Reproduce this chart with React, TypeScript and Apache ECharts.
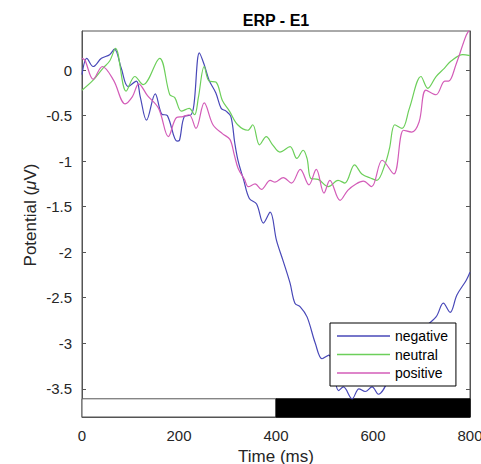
import React, { useEffect, useRef } from "react";
import * as echarts from "echarts";

const SERIES_NAMES = ["negative", "neutral", "positive"];
const X_TICKS = [0, 200, 400, 600, 800];
const Y_TICKS = [-3.5, -3, -2.5, -2, -1.5, -1, -0.5, 0];

const NEGATIVE: [number, number][] = [
  [0, -0.05], [10, 0.13], [23, 0.04], [40, 0.13], [57, 0.17], [67, 0.23], [81, 0.02],
  [95, -0.18], [112, -0.12], [120, -0.29], [133, -0.55], [151, -0.26], [164, -0.48],
  [176, -0.5], [196, -0.78], [201, -0.77], [211, -0.51], [225, -0.49], [231, -0.37],
  [242, 0.19], [252, 0.06], [262, -0.11], [276, -0.25], [287, -0.42], [297, -0.45],
  [307, -0.51], [315, -0.8], [322, -1.0], [333, -1.2], [345, -1.41], [360, -1.47],
  [374, -1.68], [388, -1.56], [401, -1.87], [415, -2.1], [429, -2.34], [439, -2.56],
  [450, -2.6], [464, -2.71], [481, -3.0], [495, -3.17], [509, -3.13], [518, -3.3],
  [529, -3.52], [539, -3.48], [557, -3.61], [571, -3.5], [584, -3.53], [598, -3.48],
  [611, -3.56], [640, -3.3], [670, -3.0], [700, -2.85], [730, -2.71], [745, -2.56],
  [759, -2.66], [773, -2.47], [792, -2.31], [800, -2.22],
];

const NEUTRAL: [number, number][] = [
  [0, -0.22], [23, -0.11], [43, 0.02], [57, 0.1], [69, 0.24], [91, -0.23], [109, -0.07],
  [126, -0.16], [160, 0.13], [181, -0.27], [191, -0.3], [205, -0.45], [221, -0.42],
  [232, -0.49], [240, -0.3], [252, 0.04], [262, -0.12], [276, -0.13], [290, -0.34],
  [304, -0.45], [321, -0.6], [342, -0.66], [352, -0.6], [366, -0.82], [380, -0.73],
  [393, -0.82], [408, -0.9], [429, -0.84], [443, -0.97], [456, -0.88], [464, -0.97],
  [472, -1.19], [487, -1.2], [508, -1.28], [528, -1.21], [542, -1.24], [562, -1.04],
  [577, -1.14], [597, -1.19], [608, -1.21], [625, -1.03], [634, -0.86], [645, -0.6],
  [660, -0.64], [675, -0.42], [699, -0.07], [713, -0.2], [730, -0.07], [747, 0.02],
  [761, 0.1], [785, 0.17], [800, 0.16],
];

const POSITIVE: [number, number][] = [
  [0, 0.13], [6, 0.11], [23, -0.1], [42, 0.04], [65, -0.11], [89, -0.37], [104, -0.29],
  [117, -0.15], [135, -0.28], [158, -0.42], [178, -0.73], [195, -0.52], [208, -0.51],
  [221, -0.49], [235, -0.64], [252, -0.36], [270, -0.6], [290, -0.7], [305, -0.76],
  [314, -0.93], [322, -1.08], [335, -1.2], [343, -1.28], [357, -1.25], [370, -1.31],
  [388, -1.21], [398, -1.23], [415, -1.18], [432, -1.24], [450, -1.09], [468, -1.26],
  [483, -1.09], [499, -1.35], [511, -1.21], [532, -1.43], [548, -1.32], [565, -1.25],
  [580, -1.22], [597, -1.28], [619, -0.99], [643, -1.14], [663, -0.66], [680, -0.68],
  [695, -0.57], [709, -0.22], [730, -0.27], [748, -0.12], [756, -0.12], [771, 0.06],
  [792, 0.38], [800, 0.45],
];

const COLORS = ["#4848b8", "#6ccf5a", "#d35cb8"];
const Y_MIN = -3.81;
const Y_MAX = 0.43;
const BAR_TOP = -3.61;

const FONT = "'Liberation Sans', Arial, Helvetica, sans-serif";

export default function App() {
  const ref = useRef<HTMLDivElement>(null);
  useEffect(() => {
    document.body.style.margin = "0";
    const chart = echarts.init(ref.current!, null, { renderer: "svg" });
    const axisColor = "#555";
    const data = [NEGATIVE, NEUTRAL, POSITIVE];
    const series: any[] = data.map((d, i) => ({
      name: SERIES_NAMES[i],
      type: "line",
      data: d,
      smooth: 0.35,
      showSymbol: false,
      symbol: "none",
      lineStyle: { color: COLORS[i], width: 1.2 },
      itemStyle: { color: COLORS[i] },
      z: 2 + i,
    }));
    series[0].markArea = {
      silent: true,
      data: [
        [
          { xAxis: 0, yAxis: Y_MIN, itemStyle: { color: "#fff", borderColor: axisColor, borderWidth: 1 } },
          { xAxis: 400, yAxis: BAR_TOP },
        ],
        [
          { xAxis: 400, yAxis: Y_MIN, itemStyle: { color: "#000", borderColor: "#000", borderWidth: 1 } },
          { xAxis: 800, yAxis: BAR_TOP },
        ],
      ],
    };
    const option: any = {
      animation: false,
      grid: {
        left: 82,
        right: 11,
        top: 31,
        bottom: 47,
        show: true,
        borderColor: axisColor,
        borderWidth: 1,
        backgroundColor: "transparent",
        containLabel: false,
        outerBoundsMode: "none",
      },
      xAxis: [
        {
          type: "value",
          min: 0,
          max: 800,
          interval: 200,
          axisLine: { show: true, onZero: false, lineStyle: { color: axisColor } },
          axisTick: { show: true, inside: true, length: 4, lineStyle: { color: axisColor } },
          axisLabel: {
            color: "#262626",
            fontSize: 15,
            fontFamily: FONT,
            margin: 11,
            customValues: X_TICKS,
          },
          splitLine: { show: false },
        },
        {
          type: "value",
          min: 0,
          max: 800,
          interval: 200,
          position: "bottom",
          offset: -18,
          axisLine: { show: false, onZero: false },
          axisTick: { show: true, inside: false, length: 4, lineStyle: { color: axisColor } },
          axisLabel: { show: false },
          splitLine: { show: false },
        },
      ],
      yAxis: [
        {
          type: "value",
          min: Y_MIN,
          max: Y_MAX,
          axisLine: { show: true, onZero: false, lineStyle: { color: axisColor } },
          axisTick: { show: true, inside: true, length: 4, customValues: Y_TICKS, lineStyle: { color: axisColor } },
          axisLabel: {
            color: "#262626",
            fontSize: 15,
            fontFamily: FONT,
            margin: 10,
            customValues: Y_TICKS,
            formatter: (v: number) => String(v),
          },
          splitLine: { show: false },
        },
        {
          type: "value",
          min: Y_MIN,
          max: Y_MAX,
          position: "right",
          axisLine: { show: true, onZero: false, lineStyle: { color: axisColor } },
          axisTick: { show: true, inside: true, length: 4, customValues: Y_TICKS, lineStyle: { color: axisColor } },
          axisLabel: { show: false },
          splitLine: { show: false },
        },
      ],
      legend: {
        data: SERIES_NAMES,
        orient: "vertical",
        left: 330,
        top: 323,
        padding: [5, 8, 5, 7],
        itemGap: 2.5,
        itemWidth: 53,
        itemHeight: 1.5,
        icon: "rect",
        borderColor: "#000",
        borderWidth: 1,
        backgroundColor: "#fff",
        borderRadius: 0,
        textStyle: { fontSize: 14, fontFamily: FONT, color: "#000", lineHeight: 16 },
        selectedMode: false,
      },
      graphic: [
        {
          type: "text",
          x: 276,
          y: 20,
          style: {
            text: "ERP - E1",
            fontSize: 16,
            fontWeight: "bold",
            fontFamily: FONT,
            fill: "#000",
            textAlign: "center",
            textVerticalAlign: "middle",
          },
        },
        {
          type: "text",
          x: 276,
          y: 456,
          style: {
            text: "Time (ms)",
            fontSize: 17,
            fontFamily: FONT,
            fill: "#262626",
            textAlign: "center",
            textVerticalAlign: "middle",
          },
        },
        {
          type: "text",
          x: 30,
          y: 215,
          rotation: Math.PI / 2,
          style: {
            text: "Potential ({mu|μ}V)",
            fontSize: 17,
            fontFamily: FONT,
            fill: "#262626",
            textAlign: "center",
            textVerticalAlign: "middle",
            rich: {
              mu: { fontSize: 17, fontStyle: "italic", fontFamily: FONT, fill: "#262626" },
            },
          },
        },
      ],
      series,
    };
    chart.setOption(option);
    return () => chart.dispose();
  }, []);
  return <div ref={ref} style={{ width: 481, height: 464 }} />;
}
